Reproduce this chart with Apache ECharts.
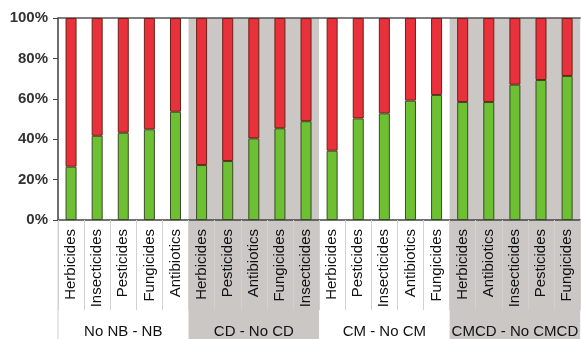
<!DOCTYPE html>
<html><head><meta charset="utf-8">
<script src="https://cdn.jsdelivr.net/npm/echarts@6/dist/echarts.min.js"></script>
<style>html,body{margin:0;padding:0;background:#fff}#c{width:581px;height:339px}</style>
</head><body><div id="c"></div>
<script>
const categories = ['Herbicides','Insecticides','Pesticides','Fungicides','Antibiotics',
  'Herbicides','Pesticides','Antibiotics','Fungicides','Insecticides',
  'Herbicides','Pesticides','Insecticides','Antibiotics','Fungicides',
  'Herbicides','Antibiotics','Insecticides','Pesticides','Fungicides'];
const groups = ['No NB - NB','CD - No CD','CM - No CM','CMCD - No CMCD'];
const greenValues = [26.4,41.7,43.2,44.9,53.6, 27.2,29.2,40.4,45.4,48.9, 34.3,50.3,52.8,59.1,61.9, 58.4,58.4,67.0,69.3,71.3];
const redValues   = [73.6,58.3,56.8,55.1,46.4, 72.8,70.8,59.6,54.6,51.1, 65.7,49.7,47.2,40.9,38.1, 41.6,41.6,33.0,30.7,28.7];
const yTicks = [0,20,40,60,80,100];

const font = 'Liberation Sans, Arial, sans-serif';
const chart = echarts.init(document.getElementById('c'), null, {renderer:'canvas'});
const option = {
  animation:false,
  backgroundColor:'#fff',
  grid:{left:58, right:-1, top:18, bottom:119, containLabel:false},
  xAxis:[
    {type:'category', data:categories, position:'bottom',
     axisLine:{lineStyle:{color:'#444', width:1.5}},
     axisTick:{show:true, interval:0, length:90, lineStyle:{color:'#d4d0ce'}},
     axisLabel:{interval:0, rotate:90, margin:9, fontSize:15, color:'#111', fontFamily:font}},
    {type:'category', data:categories, position:'top',
     axisLine:{show:true, lineStyle:{color:'#555', width:1.5}},
     axisTick:{show:false}, axisLabel:{show:false}},
    {type:'category', data:groups, position:'bottom',
     axisLine:{show:false}, axisTick:{show:false},
     axisLabel:{interval:0, margin:104, fontSize:15, color:'#111', fontFamily:font}}
  ],
  yAxis:{type:'value', min:yTicks[0], max:yTicks[yTicks.length-1], interval:20,
    axisLine:{show:true, lineStyle:{color:'#444', width:1.5}},
    axisTick:{show:true, length:5, lineStyle:{color:'#444'}},
    splitLine:{show:false},
    axisLabel:{formatter:'{value}%', fontSize:15, fontWeight:'bold', color:'#333', fontFamily:font, margin:10}},
  series:[
    {type:'bar', stack:'s', data:greenValues, barWidth:11, xAxisIndex:0,
     itemStyle:{color:'#6cc031', borderColor:'#3b4a28', borderWidth:1}},
    {type:'bar', stack:'s', data:redValues, barWidth:11, xAxisIndex:0,
     itemStyle:{color:'#e8313a', borderColor:'#6a2218', borderWidth:1}}
  ]
};
chart.setOption(option);

function addBackgrounds(){
  const p0 = chart.convertToPixel({xAxisIndex:0}, 0);
  const p1 = chart.convertToPixel({xAxisIndex:0}, 1);
  const band = p1 - p0;
  const top = chart.convertToPixel({yAxisIndex:0}, yTicks[yTicks.length-1]);
  const els = [];
  [1,3].forEach(g => {
    const a = chart.convertToPixel({xAxisIndex:0}, g*5) - band/2;
    const b = chart.convertToPixel({xAxisIndex:0}, g*5+4) + band/2;
    els.push({type:'rect', z:-10, silent:true,
      shape:{x:a, y:top, width:b-a, height:339-top},
      style:{fill:'#cac7c5'}});
  });
  const left = p0 - band/2;
  els.push({type:'line', z:-5, silent:true, shape:{x1:left,y1:top,x2:left,y2:339}, style:{stroke:'#d4d0ce', lineWidth:1}});
  chart.setOption({graphic:{elements:els}});
}
addBackgrounds();
</script></body></html>
